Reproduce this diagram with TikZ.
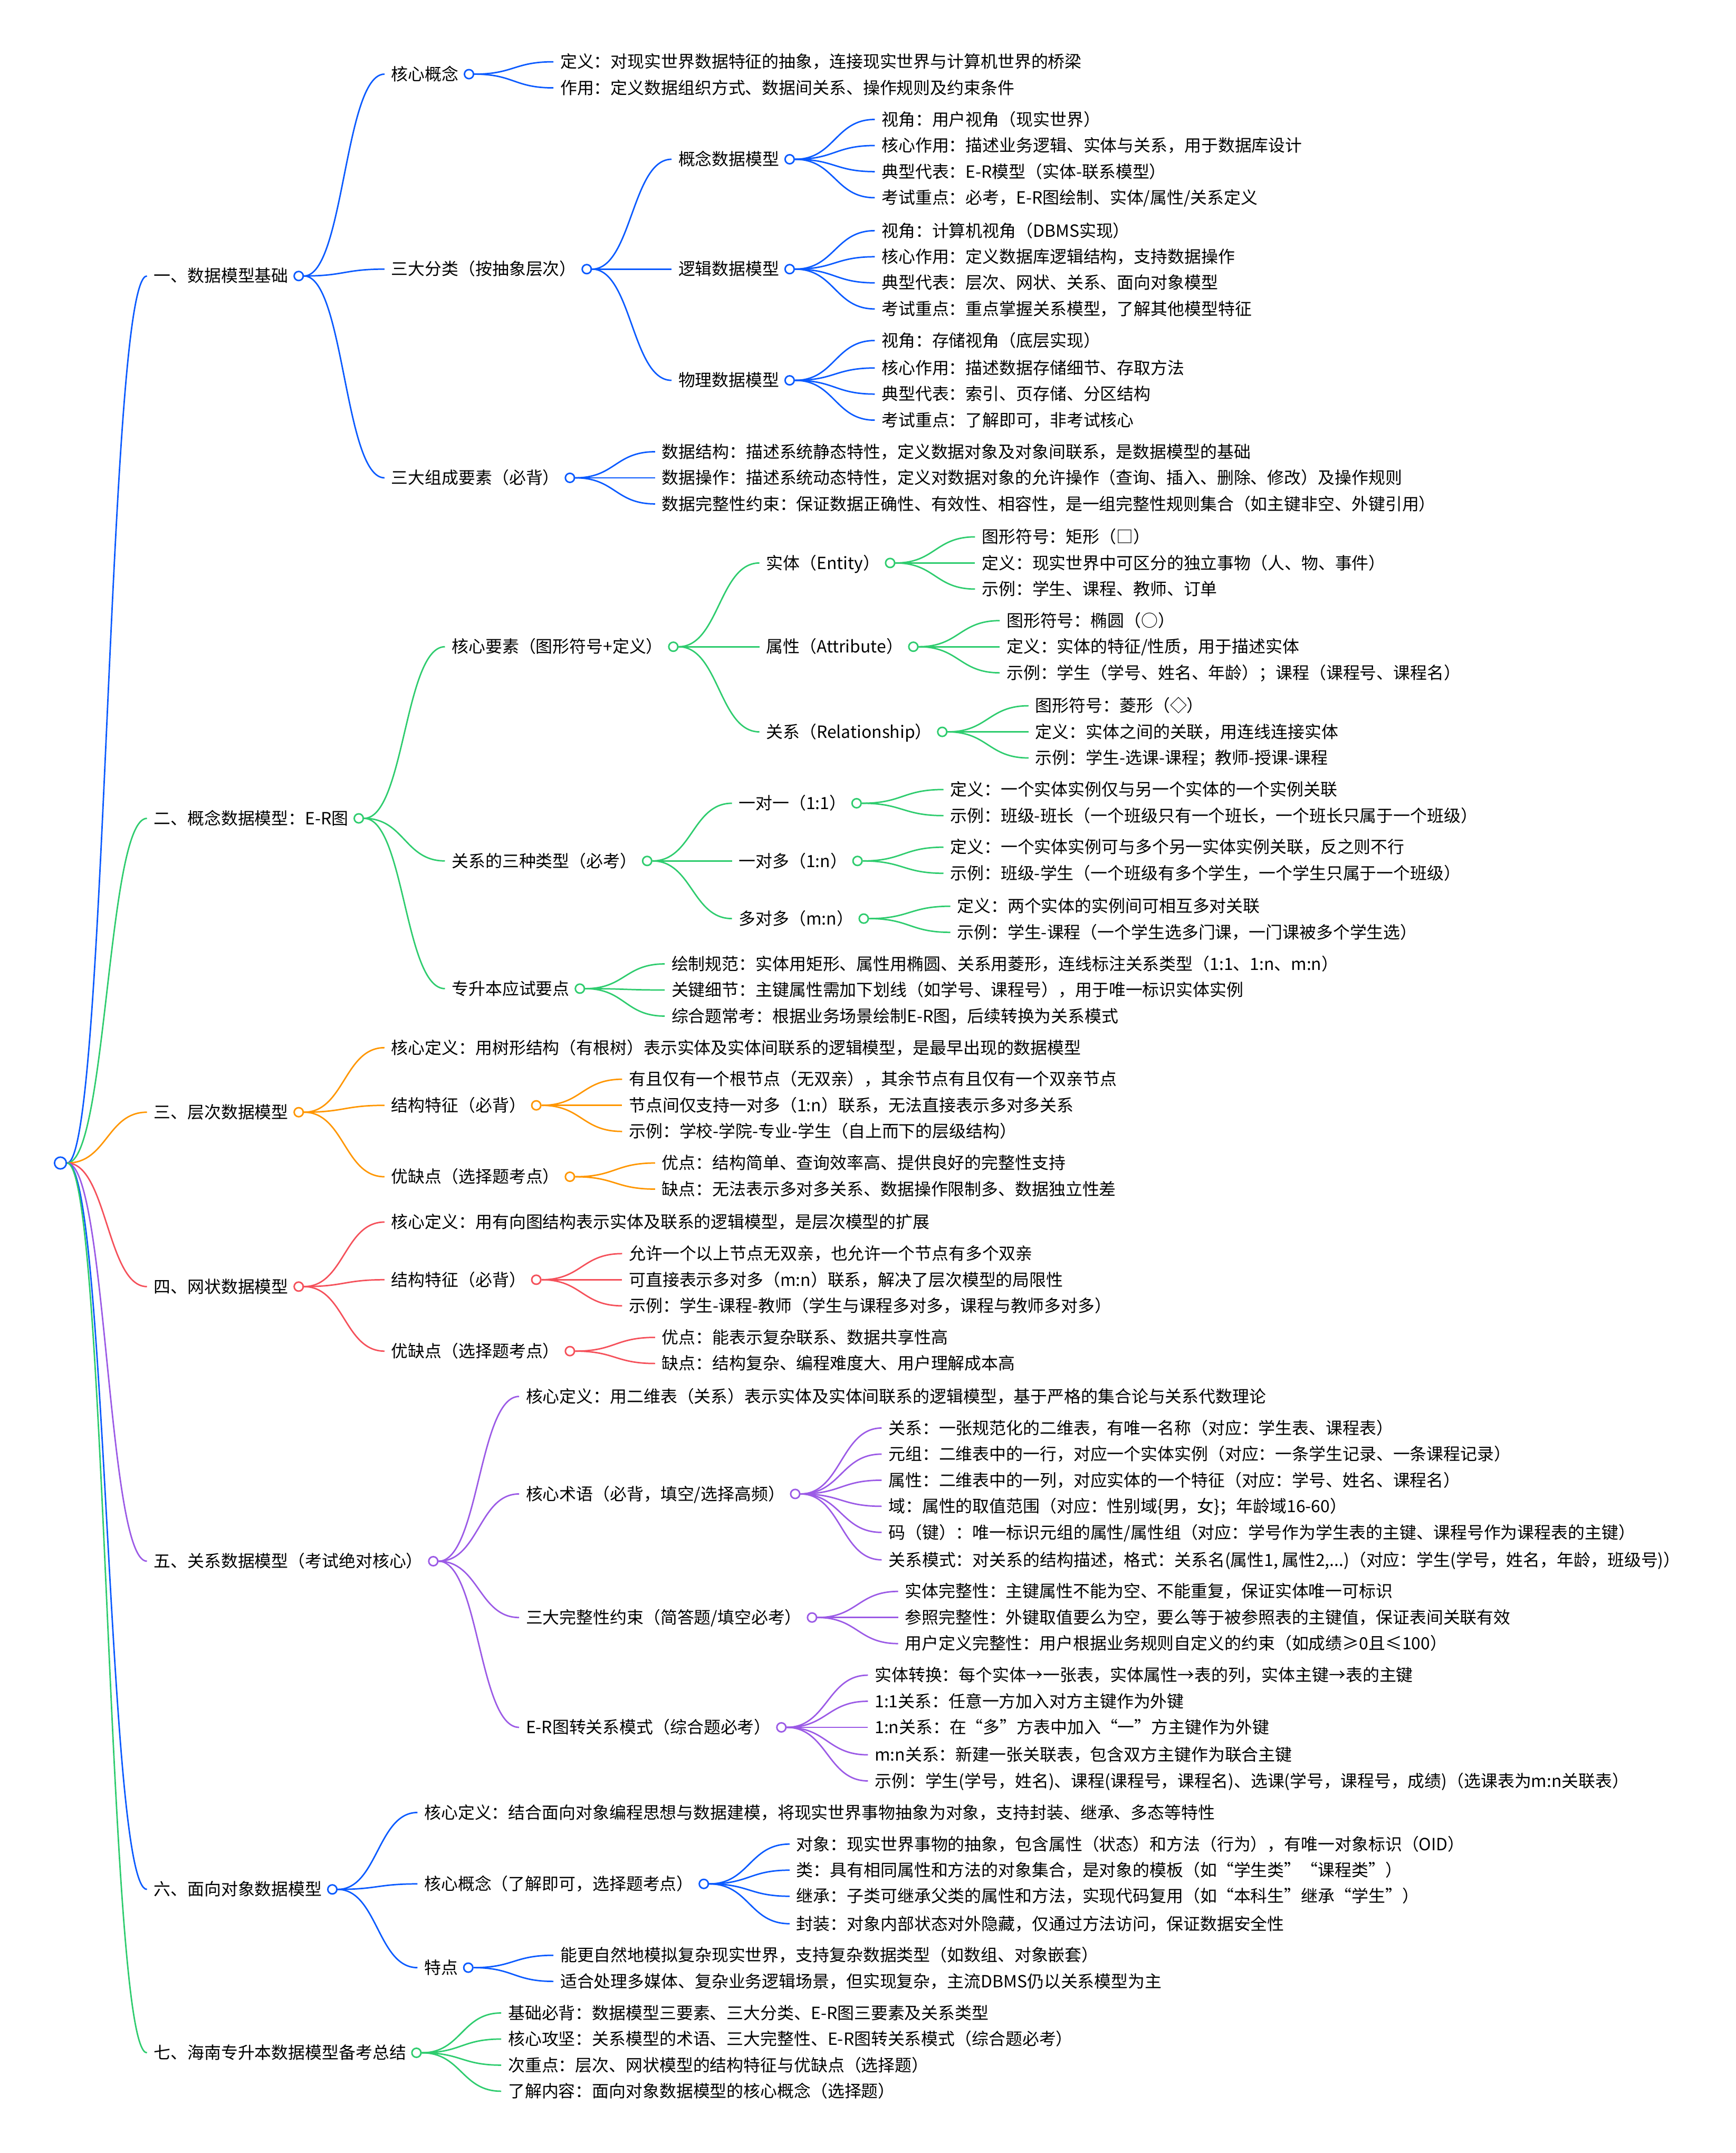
\documentclass[tikz,border=0pt]{standalone}
\usepackage{fontspec}
\setmainfont{Noto Sans CJK SC}
\usetikzlibrary{calc}
\definecolor{mmblue}{RGB}{10,90,255}
\definecolor{mmgreen}{RGB}{46,204,110}
\definecolor{mmorange}{RGB}{255,150,0}
\definecolor{mmred}{RGB}{245,80,90}
\definecolor{mmpurple}{RGB}{155,90,230}
\tikzset{
  mmtxt/.style={anchor=west, xshift=-5pt, inner sep=0pt, outer xsep=5pt, outer ysep=0pt,
    text height=10pt, text depth=1pt, font=\fontsize{12.25pt}{14pt}\selectfont, text=black},
  mmdot/.style={circle, draw=#1, fill=white, line width=1.1pt, inner sep=0pt, minimum size=6.6pt},
  rootdot/.style={circle, draw=#1, fill=white, line width=1.1pt, inner sep=0pt, minimum size=8.6pt},
  link/.style={draw=#1, line width=1.05pt,
    to path={let \p1=(\tikztostart), \p2=(\tikztotarget) in
      .. controls ({(\x1+\x2)/2},\y1) and ({(\x1+\x2)/2},\y2) .. (\tikztotarget)}}
}
\newcommand{\mmB}[5]{\node[mmtxt] (#1) at (#2,#3) {#5};
  \node[mmdot=#4] (#1-c) at ([xshift=2.5pt]#1.east) {};}
\newcommand{\mmL}[4]{\node[mmtxt] (#1) at (#2,#3) {#4};}
\newcommand{\mmC}[3]{\foreach \mmch in {#3} {\draw[link=#1] (#2-c.east) to (\mmch.west);}}
\begin{document}
\begin{tikzpicture}[x=1pt,y=-1pt]
\fill[white] (0,0) rectangle (1264,1568);
\useasboundingbox (0,0) rectangle (1264,1568);

\node[rootdot=mmblue] (R-c) at (44,847) {};

% ---------- 一 ----------
\mmB{A}{112}{201}{mmblue}{一、数据模型基础}
\mmB{A1}{285}{54}{mmblue}{核心概念}
\mmL{A1a}{408}{45}{定义：对现实世界数据特征的抽象，连接现实世界与计算机世界的桥梁}
\mmL{A1b}{408}{64}{作用：定义数据组织方式、数据间关系、操作规则及约束条件}
\mmB{A2}{285}{196}{mmblue}{三大分类（按抽象层次）}
\mmB{A2a}{494}{116}{mmblue}{概念数据模型}
\mmL{A2a1}{642}{87}{视角：用户视角（现实世界）}
\mmL{A2a2}{642}{106}{核心作用：描述业务逻辑、实体与关系，用于数据库设计}
\mmL{A2a3}{642}{125}{典型代表：E-R模型（实体-联系模型）}
\mmL{A2a4}{642}{144}{考试重点：必考，E-R图绘制、实体/属性/关系定义}
\mmB{A2b}{494}{196}{mmblue}{逻辑数据模型}
\mmL{A2b1}{642}{168}{视角：计算机视角（DBMS实现）}
\mmL{A2b2}{642}{187}{核心作用：定义数据库逻辑结构，支持数据操作}
\mmL{A2b3}{642}{206}{典型代表：层次、网状、关系、面向对象模型}
\mmL{A2b4}{642}{225}{考试重点：重点掌握关系模型，了解其他模型特征}
\mmB{A2c}{494}{277}{mmblue}{物理数据模型}
\mmL{A2c1}{642}{248}{视角：存储视角（底层实现）}
\mmL{A2c2}{642}{268}{核心作用：描述数据存储细节、存取方法}
\mmL{A2c3}{642}{287}{典型代表：索引、页存储、分区结构}
\mmL{A2c4}{642}{306}{考试重点：了解即可，非考试核心}
\mmB{A3}{285}{348}{mmblue}{三大组成要素（必背）}
\mmL{A3a}{482}{329}{数据结构：描述系统静态特性，定义数据对象及对象间联系，是数据模型的基础}
\mmL{A3b}{482}{348}{数据操作：描述系统动态特性，定义对数据对象的允许操作（查询、插入、删除、修改）及操作规则}
\mmL{A3c}{482}{367}{数据完整性约束：保证数据正确性、有效性、相容性，是一组完整性规则集合（如主键非空、外键引用）}

% ---------- 二 ----------
\mmB{B}{112}{596}{mmgreen}{二、概念数据模型：E-R图}
\mmB{B1}{329}{471}{mmgreen}{核心要素（图形符号+定义）}
\mmB{B1a}{558}{410}{mmgreen}{实体（Entity）}
\mmL{B1a1}{715}{391}{图形符号：矩形（□）}
\mmL{B1a2}{715}{410}{定义：现实世界中可区分的独立事物（人、物、事件）}
\mmL{B1a3}{715}{429}{示例：学生、课程、教师、订单}
\mmB{B1b}{558}{471}{mmgreen}{属性（Attribute）}
\mmL{B1b1}{733}{452}{图形符号：椭圆（○）}
\mmL{B1b2}{733}{471}{定义：实体的特征/性质，用于描述实体}
\mmL{B1b3}{733}{490}{示例：学生（学号、姓名、年龄）；课程（课程号、课程名）}
\mmB{B1c}{558}{533}{mmgreen}{关系（Relationship）}
\mmL{B1c1}{754}{514}{图形符号：菱形（◇）}
\mmL{B1c2}{754}{533}{定义：实体之间的关联，用连线连接实体}
\mmL{B1c3}{754}{552}{示例：学生-选课-课程；教师-授课-课程}
\mmB{B2}{329}{627}{mmgreen}{关系的三种类型（必考）}
\mmB{B2a}{538}{585}{mmgreen}{一对一（1:1）}
\mmL{B2a1}{692}{575}{定义：一个实体实例仅与另一个实体的一个实例关联}
\mmL{B2a2}{692}{594}{示例：班级-班长（一个班级只有一个班长，一个班长只属于一个班级）}
\mmB{B2b}{538}{627}{mmgreen}{一对多（1:n）}
\mmL{B2b1}{692}{617}{定义：一个实体实例可与多个另一实体实例关联，反之则不行}
\mmL{B2b2}{692}{636}{示例：班级-学生（一个班级有多个学生，一个学生只属于一个班级）}
\mmB{B2c}{538}{669}{mmgreen}{多对多（m:n）}
\mmL{B2c1}{697}{660}{定义：两个实体的实例间可相互多对关联}
\mmL{B2c2}{697}{679}{示例：学生-课程（一个学生选多门课，一门课被多个学生选）}
\mmB{B3}{329}{720}{mmgreen}{专升本应试要点}
\mmL{B3a}{489}{702}{绘制规范：实体用矩形、属性用椭圆、关系用菱形，连线标注关系类型（1:1、1:n、m:n）}
\mmL{B3b}{489}{721}{关键细节：主键属性需加下划线（如学号、课程号），用于唯一标识实体实例}
\mmL{B3c}{489}{740}{综合题常考：根据业务场景绘制E-R图，后续转换为关系模式}

% ---------- 三 ----------
\mmB{C}{112}{810}{mmorange}{三、层次数据模型}
\mmL{C1}{285}{763}{核心定义：用树形结构（有根树）表示实体及实体间联系的逻辑模型，是最早出现的数据模型}
\mmB{C2}{285}{805}{mmorange}{结构特征（必背）}
\mmL{C2a}{458}{786}{有且仅有一个根节点（无双亲），其余节点有且仅有一个双亲节点}
\mmL{C2b}{458}{805}{节点间仅支持一对多（1:n）联系，无法直接表示多对多关系}
\mmL{C2c}{458}{824}{示例：学校-学院-专业-学生（自上而下的层级结构）}
\mmB{C3}{285}{857}{mmorange}{优缺点（选择题考点）}
\mmL{C3a}{482}{847}{优点：结构简单、查询效率高、提供良好的完整性支持}
\mmL{C3b}{482}{866}{缺点：无法表示多对多关系、数据操作限制多、数据独立性差}

% ---------- 四 ----------
\mmB{D}{112}{937}{mmred}{四、网状数据模型}
\mmL{D1}{285}{890}{核心定义：用有向图结构表示实体及联系的逻辑模型，是层次模型的扩展}
\mmB{D2}{285}{932}{mmred}{结构特征（必背）}
\mmL{D2a}{458}{913}{允许一个以上节点无双亲，也允许一个节点有多个双亲}
\mmL{D2b}{458}{932}{可直接表示多对多（m:n）联系，解决了层次模型的局限性}
\mmL{D2c}{458}{951}{示例：学生-课程-教师（学生与课程多对多，课程与教师多对多）}
\mmB{D3}{285}{984}{mmred}{优缺点（选择题考点）}
\mmL{D3a}{482}{974}{优点：能表示复杂联系、数据共享性高}
\mmL{D3b}{482}{993}{缺点：结构复杂、编程难度大、用户理解成本高}

% ---------- 五 ----------
\mmB{E}{112}{1137}{mmpurple}{五、关系数据模型（考试绝对核心）}
\mmL{E1}{383}{1017}{核心定义：用二维表（关系）表示实体及实体间联系的逻辑模型，基于严格的集合论与关系代数理论}
\mmB{E2}{383}{1088}{mmpurple}{核心术语（必背，填空/选择高频）}
\mmL{E2a}{647}{1040}{关系：一张规范化的二维表，有唯一名称（对应：学生表、课程表）}
\mmL{E2b}{647}{1059}{元组：二维表中的一行，对应一个实体实例（对应：一条学生记录、一条课程记录）}
\mmL{E2c}{647}{1078}{属性：二维表中的一列，对应实体的一个特征（对应：学号、姓名、课程名）}
\mmL{E2d}{647}{1097}{域：属性的取值范围（对应：性别域\{男，女\}；年龄域16-60）}
\mmL{E2e}{647}{1116}{码（键）：唯一标识元组的属性/属性组（对应：学号作为学生表的主键、课程号作为课程表的主键）}
\mmL{E2f}{647}{1136}{关系模式：对关系的结构描述，格式：关系名(属性1, 属性2,...)（对应：学生(学号，姓名，年龄，班级号)）}
\mmB{E3}{383}{1178}{mmpurple}{三大完整性约束（简答题/填空必考）}
\mmL{E3a}{659}{1159}{实体完整性：主键属性不能为空、不能重复，保证实体唯一可标识}
\mmL{E3b}{659}{1178}{参照完整性：外键取值要么为空，要么等于被参照表的主键值，保证表间关联有效}
\mmL{E3c}{659}{1197}{用户定义完整性：用户根据业务规则自定义的约束（如成绩≥0且≤100）}
\mmB{E4}{383}{1258}{mmpurple}{E-R图转关系模式（综合题必考）}
\mmL{E4a}{637}{1220}{实体转换：每个实体→一张表，实体属性→表的列，实体主键→表的主键}
\mmL{E4b}{637}{1239}{1:1关系：任意一方加入对方主键作为外键}
\mmL{E4c}{637}{1258}{1:n关系：在“多”方表中加入“一”方主键作为外键}
\mmL{E4d}{637}{1278}{m:n关系：新建一张关联表，包含双方主键作为联合主键}
\mmL{E4e}{637}{1297}{示例：学生(学号，姓名)、课程(课程号，课程名)、选课(学号，课程号，成绩)（选课表为m:n关联表）}

% ---------- 六 ----------
\mmB{F}{112}{1376}{mmblue}{六、面向对象数据模型}
\mmL{F1}{309}{1320}{核心定义：结合面向对象编程思想与数据建模，将现实世界事物抽象为对象，支持封装、继承、多态等特性}
\mmB{F2}{309}{1372}{mmblue}{核心概念（了解即可，选择题考点）}
\mmL{F2a}{580}{1343}{对象：现实世界事物的抽象，包含属性（状态）和方法（行为），有唯一对象标识（OID）}
\mmL{F2b}{580}{1362}{类：具有相同属性和方法的对象集合，是对象的模板（如“学生类”“课程类”）}
\mmL{F2c}{580}{1381}{继承：子类可继承父类的属性和方法，实现代码复用（如“本科生”继承“学生”）}
\mmL{F2d}{580}{1401}{封装：对象内部状态对外隐藏，仅通过方法访问，保证数据安全性}
\mmB{F3}{309}{1433}{mmblue}{特点}
\mmL{F3a}{408}{1424}{能更自然地模拟复杂现实世界，支持复杂数据类型（如数组、对象嵌套）}
\mmL{F3b}{408}{1443}{适合处理多媒体、复杂业务逻辑场景，但实现复杂，主流DBMS仍以关系模型为主}

% ---------- 七 ----------
\mmB{G}{112}{1495}{mmgreen}{七、海南专升本数据模型备考总结}
\mmL{G1}{370}{1466}{基础必背：数据模型三要素、三大分类、E-R图三要素及关系类型}
\mmL{G2}{370}{1485}{核心攻坚：关系模型的术语、三大完整性、E-R图转关系模式（综合题必考）}
\mmL{G3}{370}{1504}{次重点：层次、网状模型的结构特征与优缺点（选择题）}
\mmL{G4}{370}{1523}{了解内容：面向对象数据模型的核心概念（选择题）}

% ---------- connectors ----------
\draw[link=mmblue] (R-c.east) to (A.west);
\draw[link=mmgreen] (R-c.east) to (B.west);
\draw[link=mmorange] (R-c.east) to (C.west);
\draw[link=mmred] (R-c.east) to (D.west);
\draw[link=mmpurple] (R-c.east) to (E.west);
\draw[link=mmblue] (R-c.east) to (F.west);
\draw[link=mmgreen] (R-c.east) to (G.west);

\mmC{mmblue}{A}{A1,A2,A3}
\mmC{mmblue}{A1}{A1a,A1b}
\mmC{mmblue}{A2}{A2a,A2b,A2c}
\mmC{mmblue}{A2a}{A2a1,A2a2,A2a3,A2a4}
\mmC{mmblue}{A2b}{A2b1,A2b2,A2b3,A2b4}
\mmC{mmblue}{A2c}{A2c1,A2c2,A2c3,A2c4}
\mmC{mmblue}{A3}{A3a,A3b,A3c}

\mmC{mmgreen}{B}{B1,B2,B3}
\mmC{mmgreen}{B1}{B1a,B1b,B1c}
\mmC{mmgreen}{B1a}{B1a1,B1a2,B1a3}
\mmC{mmgreen}{B1b}{B1b1,B1b2,B1b3}
\mmC{mmgreen}{B1c}{B1c1,B1c2,B1c3}
\mmC{mmgreen}{B2}{B2a,B2b,B2c}
\mmC{mmgreen}{B2a}{B2a1,B2a2}
\mmC{mmgreen}{B2b}{B2b1,B2b2}
\mmC{mmgreen}{B2c}{B2c1,B2c2}
\mmC{mmgreen}{B3}{B3a,B3b,B3c}

\mmC{mmorange}{C}{C1,C2,C3}
\mmC{mmorange}{C2}{C2a,C2b,C2c}
\mmC{mmorange}{C3}{C3a,C3b}

\mmC{mmred}{D}{D1,D2,D3}
\mmC{mmred}{D2}{D2a,D2b,D2c}
\mmC{mmred}{D3}{D3a,D3b}

\mmC{mmpurple}{E}{E1,E2,E3,E4}
\mmC{mmpurple}{E2}{E2a,E2b,E2c,E2d,E2e,E2f}
\mmC{mmpurple}{E3}{E3a,E3b,E3c}
\mmC{mmpurple}{E4}{E4a,E4b,E4c,E4d,E4e}

\mmC{mmblue}{F}{F1,F2,F3}
\mmC{mmblue}{F2}{F2a,F2b,F2c,F2d}
\mmC{mmblue}{F3}{F3a,F3b}

\mmC{mmgreen}{G}{G1,G2,G3,G4}
\end{tikzpicture}
\end{document}
